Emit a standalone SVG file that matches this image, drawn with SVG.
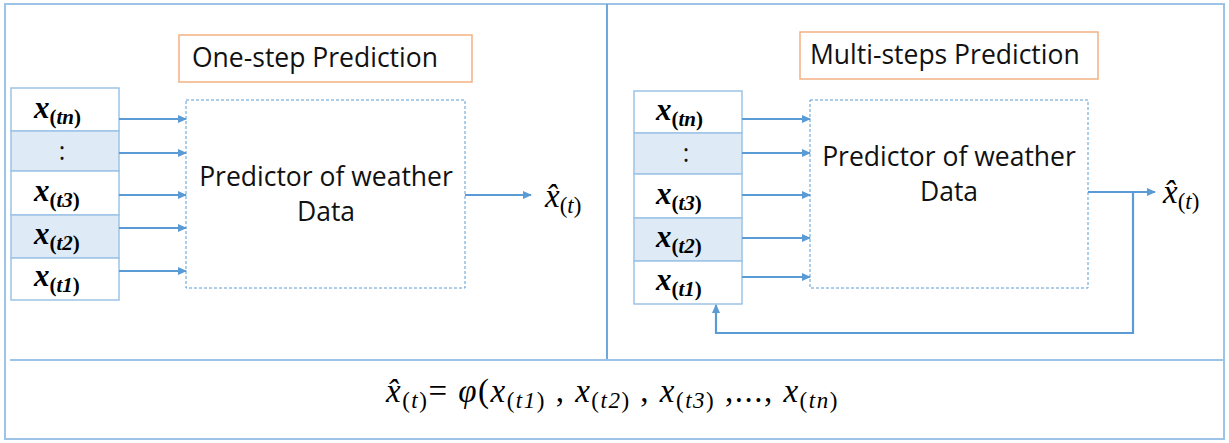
<svg xmlns="http://www.w3.org/2000/svg" width="1229" height="443" viewBox="0 0 1229 443">
<defs>
<marker id="ah" markerWidth="9" markerHeight="9" refX="8" refY="4.5" orient="auto" markerUnits="userSpaceOnUse">
<path d="M0,0.5 L9,4.5 L0,8.5 Z" fill="#5B9BD5"/>
</marker>
<style>
.frame{fill:none;stroke:#9DC3E6;stroke-width:2}
.cell{fill:#fff;stroke:#9DC3E6;stroke-width:1.5}
.cellS{fill:#DEEBF7;stroke:#9DC3E6;stroke-width:1.5}
.dot{fill:none;stroke:#5B9BD5;stroke-width:1;stroke-dasharray:3 2}
.ttl{fill:#fff;stroke:#F4B183;stroke-width:1.5}
.con{fill:none;stroke:#5B9BD5;stroke-width:2.2}
.lbl{font-family:"Open Sans","Liberation Sans",sans-serif;font-size:25px;fill:#111}
.big{font-size:26.5px}
.mx{font-family:"Liberation Serif","DejaVu Serif",serif;font-style:italic;font-weight:bold;font-size:31px;fill:#000}
.ms{font-size:21px}
.fx{font-family:"Liberation Serif","DejaVu Serif",serif;font-style:italic;font-size:33px;fill:#000}
.fs{font-size:23px}
.up{font-style:normal}
.wide{letter-spacing:1.5px}
</style>
</defs>
<g id="frame">
<rect class="frame" x="5" y="4" width="1219" height="435"/>
<line class="frame" x1="607" y1="4" x2="607" y2="360" style="stroke:#6FA8DC"/>
<line class="frame" x1="10" y1="360" x2="1224" y2="360"/>
</g>
<g id="title-left">
<rect class="ttl" x="179" y="35" width="293" height="47"/>
<text class="lbl big" x="192" y="67">One-step Prediction</text>
</g>
<g id="title-right">
<rect class="ttl" x="800" y="32" width="298" height="47"/>
<text class="lbl big" x="810" y="64">Multi-steps Prediction</text>
</g>
<g id="stack-left">
<rect class="cell" x="11" y="88" width="108" height="43"/>
<rect class="cellS" x="11" y="131" width="108" height="40"/>
<rect class="cell" x="11" y="171" width="108" height="44"/>
<rect class="cellS" x="11" y="215" width="108" height="43"/>
<rect class="cell" x="11" y="258" width="108" height="42"/>
<text class="mx" x="34" y="118">x<tspan class="ms" dy="6"><tspan class="up">(</tspan>tn<tspan class="up">)</tspan></tspan></text>
<text class="lbl" x="62" y="160" text-anchor="middle">:</text>
<text class="mx" x="34" y="201">x<tspan class="ms" dy="6"><tspan class="up">(</tspan>t3<tspan class="up">)</tspan></tspan></text>
<text class="mx" x="34" y="244">x<tspan class="ms" dy="6"><tspan class="up">(</tspan>t2<tspan class="up">)</tspan></tspan></text>
<text class="mx" x="34" y="286">x<tspan class="ms" dy="6"><tspan class="up">(</tspan>t1<tspan class="up">)</tspan></tspan></text>
</g>
<g id="predictor-left">
<rect class="dot" x="186" y="100" width="279" height="188"/>
<text class="lbl big" x="326" y="186" text-anchor="middle">Predictor of weather</text>
<text class="lbl big" x="326" y="221" text-anchor="middle">Data</text>
</g>
<g id="output-left">
<text class="fx" x="545" y="207">x̂<tspan class="fs" dy="6"><tspan class="up">(</tspan>t<tspan class="up">)</tspan></tspan></text>
</g>
<g id="stack-right">
<rect class="cell" x="634" y="91" width="108" height="42"/>
<rect class="cellS" x="634" y="133" width="108" height="41"/>
<rect class="cell" x="634" y="174" width="108" height="44"/>
<rect class="cellS" x="634" y="218" width="108" height="43"/>
<rect class="cell" x="634" y="261" width="108" height="43"/>
<text class="mx" x="656" y="120">x<tspan class="ms" dy="6"><tspan class="up">(</tspan>tn<tspan class="up">)</tspan></tspan></text>
<text class="lbl" x="686" y="162" text-anchor="middle">:</text>
<text class="mx" x="656" y="204">x<tspan class="ms" dy="6"><tspan class="up">(</tspan>t3<tspan class="up">)</tspan></tspan></text>
<text class="mx" x="656" y="247">x<tspan class="ms" dy="6"><tspan class="up">(</tspan>t2<tspan class="up">)</tspan></tspan></text>
<text class="mx" x="656" y="290">x<tspan class="ms" dy="6"><tspan class="up">(</tspan>t1<tspan class="up">)</tspan></tspan></text>
</g>
<g id="predictor-right">
<rect class="dot" x="810" y="100" width="278" height="188"/>
<text class="lbl big" x="949" y="166" text-anchor="middle">Predictor of weather</text>
<text class="lbl big" x="949" y="201" text-anchor="middle">Data</text>
</g>
<g id="output-right">
<text class="fx" x="1163" y="203">x̂<tspan class="fs" dy="6"><tspan class="up">(</tspan>t<tspan class="up">)</tspan></tspan></text>
</g>
<g id="formula">
<text class="fx wide" x="386" y="402">x̂<tspan class="fs" dy="6"><tspan class="up">(</tspan>t<tspan class="up">)</tspan></tspan><tspan dy="-6" class="up">= </tspan>φ<tspan class="up">(</tspan>x<tspan class="fs" dy="6"><tspan class="up">(</tspan>t1<tspan class="up">)</tspan></tspan><tspan dy="-6" class="up"> , </tspan>x<tspan class="fs" dy="6"><tspan class="up">(</tspan>t2<tspan class="up">)</tspan></tspan><tspan dy="-6" class="up"> , </tspan>x<tspan class="fs" dy="6"><tspan class="up">(</tspan>t3<tspan class="up">)</tspan></tspan><tspan dy="-6" class="up"> ,..., </tspan>x<tspan class="fs" dy="6"><tspan class="up">(</tspan>tn<tspan class="up">)</tspan></tspan></text>
</g>
<g id="connectors">
<line class="con" x1="119" y1="119" x2="186" y2="119" marker-end="url(#ah)"/>
<line class="con" x1="119" y1="153" x2="186" y2="153" marker-end="url(#ah)"/>
<line class="con" x1="119" y1="195" x2="186" y2="195" marker-end="url(#ah)"/>
<line class="con" x1="119" y1="228" x2="186" y2="228" marker-end="url(#ah)"/>
<line class="con" x1="119" y1="271" x2="186" y2="271" marker-end="url(#ah)"/>
<line class="con" x1="465" y1="195" x2="531" y2="195" marker-end="url(#ah)"/>
<line class="con" x1="742" y1="119" x2="810" y2="119" marker-end="url(#ah)"/>
<line class="con" x1="742" y1="153" x2="810" y2="153" marker-end="url(#ah)"/>
<line class="con" x1="742" y1="195" x2="810" y2="195" marker-end="url(#ah)"/>
<line class="con" x1="742" y1="238" x2="810" y2="238" marker-end="url(#ah)"/>
<line class="con" x1="742" y1="277" x2="810" y2="277" marker-end="url(#ah)"/>
<line class="con" x1="1088" y1="192" x2="1155" y2="192" marker-end="url(#ah)"/>
<polyline class="con" points="1133,192 1133,333 716,333 716,305" marker-end="url(#ah)"/>
</g>
</svg>
